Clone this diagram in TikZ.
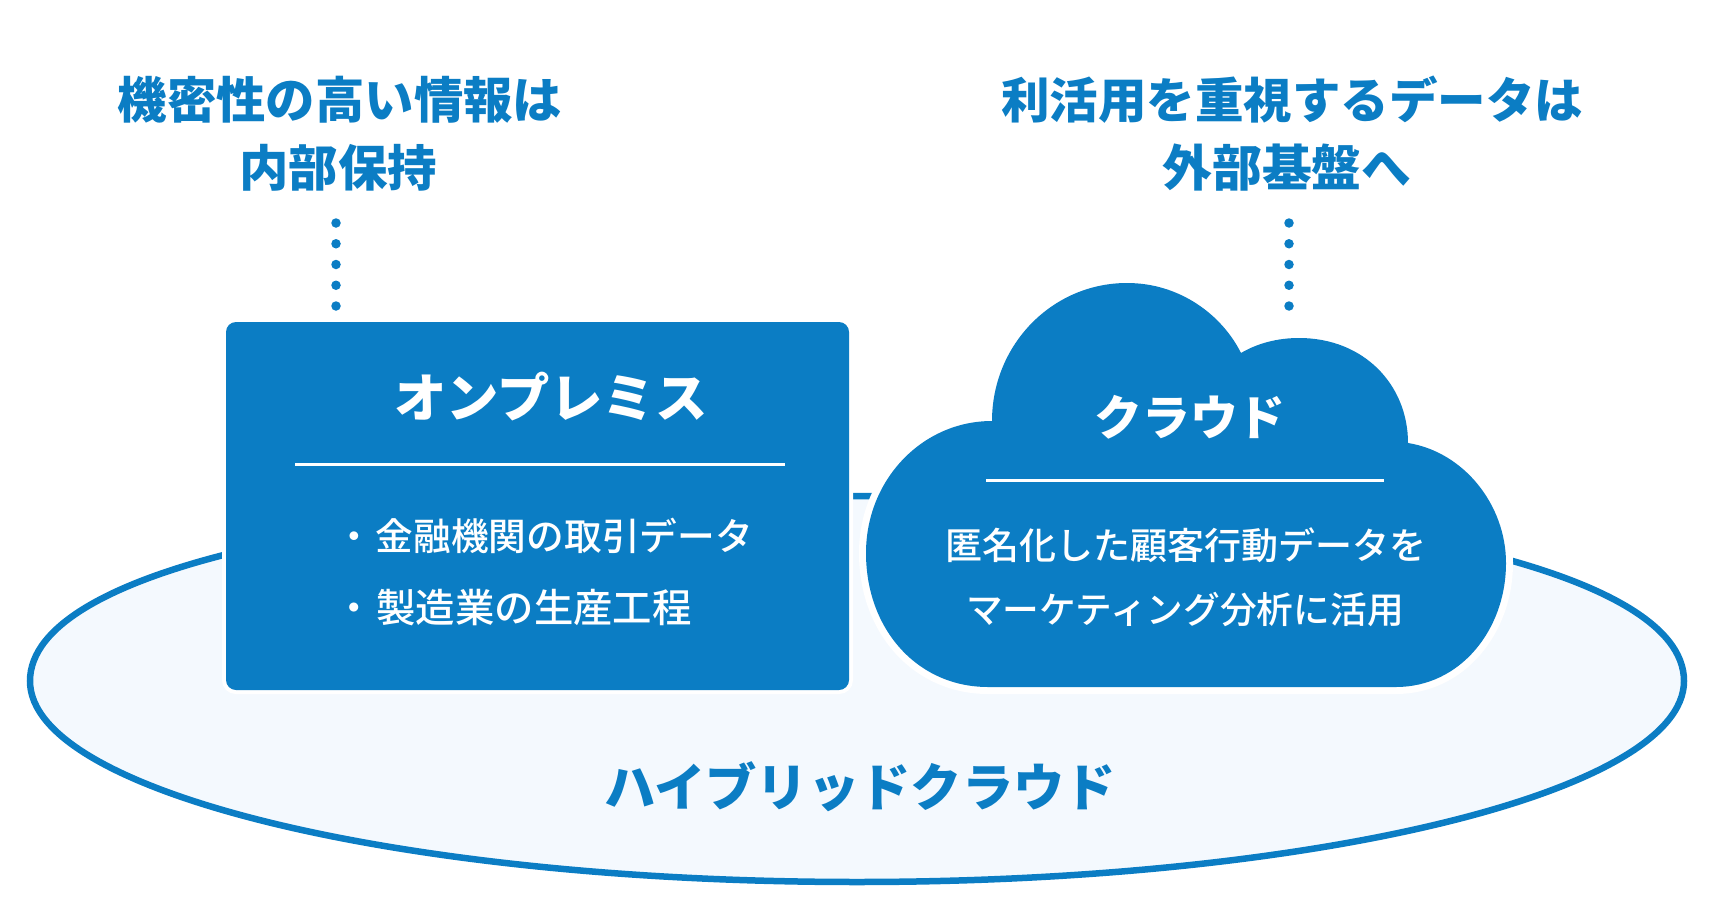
\documentclass[tikz,border=0pt]{standalone}
\usepackage{fontspec}
\setmainfont{Noto Sans CJK JP}
\newfontfamily\medfont{Noto Sans CJK JP Medium}
\definecolor{hybblue}{HTML}{0B7DC4}
\definecolor{hybpale}{HTML}{F4F9FE}
\tikzset{
	headtext/.style={text=hybblue,font=\fontsize{#1}{#1}\selectfont\bfseries,inner sep=0pt},
	boxtitle/.style={text=white,font=\fontsize{#1}{#1}\selectfont\bfseries,inner sep=0pt},
	bodytext/.style={text=white,font=\fontsize{#1}{#1}\medfont,inner sep=0pt},
	dotline/.style={hybblue,line width=9.5pt,line cap=round,dash pattern=on 0pt off 20.75pt},
	ruleline/.style={white,line width=3pt},
}
\begin{document}
\begin{tikzpicture}[x=1pt,y=-1pt]
	\useasboundingbox (0,0) rectangle (1714,918);

	\draw [hybblue,fill=hybpale,line width=6.5pt] (30,681)
		.. controls (30,570) and (361,496) .. (857,496)
		.. controls (1353,496) and (1684,570) .. (1684,681)
		.. controls (1684,792) and (1314,882) .. (857,882)
		.. controls (400,882) and (30,792) .. (30,681) -- cycle;

	\node [fill=hybblue,preaction={draw=white,line width=8pt},rounded corners=10pt,minimum width=623pt,minimum height=368pt,inner sep=0pt] (onprem) at (537.5,506) {};

	\draw [fill=hybblue,draw=none,preaction={draw=white,line width=14pt}] (992,421)
		.. controls (992,345) and (1052,283) .. (1127,283)
		.. controls (1180,283) and (1222,315) .. (1241,353)
		.. controls (1258,343) and (1278,338) .. (1299,338)
		.. controls (1364,338) and (1408,385) .. (1408,443)
		.. controls (1464,452) and (1506,505) .. (1506,563)
		.. controls (1506,630) and (1460,687) .. (1396,687)
		-- (988,687)
		.. controls (918,687) and (866,630) .. (866,553)
		.. controls (866,480) and (922,421) .. (992,421) -- cycle;

	\node [headtext=49.4] (leftnoteA) at (340,100) {機密性の高い情報は};
	\node [headtext=49.4] (leftnoteB) at (338,168) {内部保持};
	\node [headtext=48.5] (rightnoteA) at (1292,100) {利活用を重視するデータは};
	\node [headtext=49.8] (rightnoteB) at (1287,168) {外部基盤へ};

	\coordinate (leftdottop) at (336,223);
	\coordinate (leftdotend) at (336,306.5);
	\coordinate (rightdottop) at (1289,223);
	\coordinate (rightdotend) at (1289,306.5);
	\draw [dotline] (leftdottop) -- (leftdotend);
	\draw [dotline] (rightdottop) -- (rightdotend);

	\node [boxtitle=52.4] (onpremtitle) at (551,397) {オンプレミス};
	\coordinate (onpremruleA) at (295,464);
	\coordinate (onpremruleB) at (785,464);
	\draw [ruleline] (onpremruleA) -- (onpremruleB);
	\node [bodytext=37.7,anchor=west] (onpremitemA) at (335,536) {・\kern3pt 金融機関の取引データ};
	\node [bodytext=39.4,anchor=west] (onpremitemB) at (334,608) {・\kern3pt 製造業の生産工程};

	\node [boxtitle=47.9] (cloudtitle) at (1190,417) {クラウド};
	\coordinate (cloudruleA) at (986,480);
	\coordinate (cloudruleB) at (1384,480);
	\draw [ruleline] (cloudruleA) -- (cloudruleB);
	\node [bodytext=37] (cloudlineA) at (1186,545) {匿名化した顧客行動データを};
	\node [bodytext=36.7] (cloudlineB) at (1185,610) {マーケティング分析に活用};

	\node [headtext=51.3] (hybridtitle) at (860,787) {ハイブリッドクラウド};
\end{tikzpicture}
\end{document}
